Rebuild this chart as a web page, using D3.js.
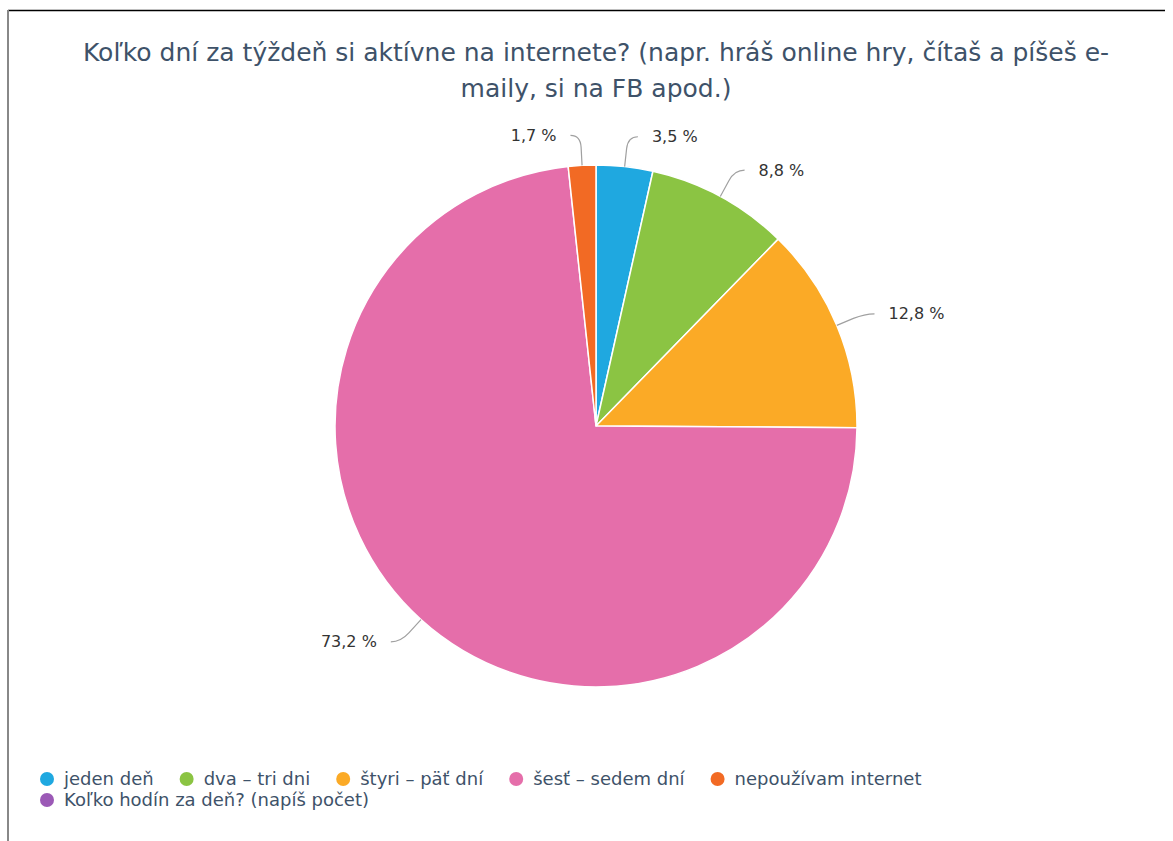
<!DOCTYPE html>
<html>
<head>
<meta charset="utf-8">
<script src="https://cdn.jsdelivr.net/npm/d3@7"></script>
<style>
  body { margin: 0; background: #fff; }
  svg { display: block; font-family: "DejaVu Sans", sans-serif; }
</style>
</head>
<body>
<svg id="chart" width="1173" height="841"></svg>
<script>
// answers + shares (%)
const categories = ["jeden deň", "dva – tri dni", "štyri – päť dní", "šesť – sedem dní", "nepoužívam internet", "Koľko hodín za deň? (napíš počet)"]
const values = [3.5, 8.8, 12.8, 73.2, 1.7, 0]
const colors = ["#1fa8e0", "#8bc443", "#fbaa26", "#e56eaa", "#f26a24", "#9b59b6"]
const titleLines = ["Koľko dní za týždeň si aktívne na internete? (napr. hráš online hry, čítaš a píšeš e-", "maily, si na FB apod.)"]

const W = 1173, H = 841
const svg = d3.select('#chart')

// frame
svg.append('line').attr('x1', 8).attr('x2', 1165).attr('y1', 10.5).attr('y2', 10.5)
  .attr('stroke', '#000').attr('stroke-width', 1.5)
svg.append('line').attr('x1', 8).attr('x2', 8).attr('y1', 10).attr('y2', H)
  .attr('stroke', '#888').attr('stroke-width', 2)

// title
svg.append('g').selectAll('text')
  .data(titleLines)
  .enter()
  .append('text')
  .attr('x', 596)
  .attr('y', (d, i) => 61 + i * 36)
  .attr('text-anchor', 'middle')
  .attr('font-size', 25)
  .attr('fill', '#3e5269')
  .text(d => d)

// pie
const cx = 596, cy = 426, r = 261
const data = categories.map((c, i) => ({ name: c, value: values[i], color: colors[i] }))

const pie = d3.pie().sort(null).value(d => d.value)
const arcs = pie(data).filter(d => d.data.value > 0)
const arc = d3.arc().innerRadius(0).outerRadius(r)

const g = svg.append('g').attr('transform', `translate(${cx},${cy})`)

g.selectAll('path.slice')
  .data(arcs)
  .enter()
  .append('path')
  .attr('class', 'slice')
  .attr('d', arc)
  .attr('fill', d => d.data.color)
  .attr('stroke', '#fff')
  .attr('stroke-width', 1.5)
  .attr('stroke-linejoin', 'round')

// connectors + labels
const pt = (a, rad) => [Math.sin(a) * rad, -Math.cos(a) * rad]
arcs.forEach(d => {
  const a = (d.startAngle + d.endAngle) / 2
  const right = Math.sin(a) >= 0
  const p0 = pt(a, r)
  const p1 = pt(a, r + 18)
  const p2 = pt(a, r + 30)
  const p3 = [p2[0] + (right ? 10 : -10), p2[1]]
  g.append('path')
    .attr('d', `M${p0}L${p1}Q${p2} ${p3}`)
    .attr('fill', 'none')
    .attr('stroke', '#a0a0a0')
    .attr('stroke-width', 1.2)
  g.append('text')
    .attr('x', p3[0] + (right ? 14 : -14))
    .attr('y', p3[1])
    .attr('dy', '0.35em')
    .attr('text-anchor', right ? 'start' : 'end')
    .attr('font-size', 16)
    .attr('fill', '#333')
    .text(d3.format('.1f')(d.data.value).replace('.', ',') + ' %')
})

// legend
const legend = svg.append('g')
let lx = 47, ly = 779
const maxX = 1150
data.forEach((d, i) => {
  const item = legend.append('g')
  const t = item.append('text')
    .attr('x', 17)
    .attr('dy', '0.35em')
    .attr('font-size', 18)
    .attr('fill', '#3e5269')
    .text(d.name)
  const w = t.node().getComputedTextLength() + 17
  if (lx + w > maxX) { lx = 47; ly += 21 }
  item.append('circle').attr('r', 7).attr('fill', d.color)
  item.attr('transform', `translate(${lx},${ly})`)
  lx += w + 33
})
</script>
</body>
</html>
